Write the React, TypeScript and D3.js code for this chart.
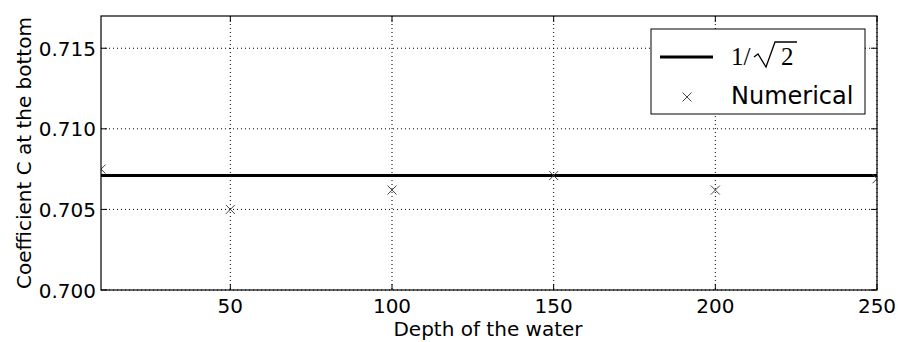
import React from 'react';
import { scaleLinear, line } from 'd3';

// data
const depths = [10, 50, 100, 150, 200, 250];
const numerical = [0.7075, 0.705, 0.7062, 0.7071, 0.7062, 0.7069];
const xTicks = [50, 100, 150, 200, 250];
const yTicks = [0.7, 0.705, 0.71, 0.715];
const theory = 1 / Math.SQRT2;

const W = 898;
const H = 342;
const left = 101;
const right = 877;
const top = 16;
const bottom = 290;
const font = '"DejaVu Sans", sans-serif';
const serif = '"Liberation Serif", "DejaVu Serif", serif';

const App = () => {
  const x = scaleLinear().domain([10, 250]).range([left, right]);
  const y = scaleLinear().domain([0.7, 0.717]).range([bottom, top]);

  const theoryLine = line<number>()
    .x((d) => x(d))
    .y(() => y(theory));

  const cross = (cx: number, cy: number, r: number) =>
    `M${cx - r},${cy - r}L${cx + r},${cy + r}M${cx - r},${cy + r}L${cx + r},${cy - r}`;

  return (
    <svg width={W} height={H} style={{ position: 'absolute', left: 0, top: 0, background: '#fff' }}>
      <defs>
        <clipPath id="plot">
          <rect x={left} y={top} width={right - left} height={bottom - top} />
        </clipPath>
      </defs>

      {/* grid */}
      <g stroke="#000" strokeWidth={1} strokeDasharray="1,3">
        {xTicks.map((t) => (
          <line key={'gx' + t} x1={x(t)} x2={x(t)} y1={top} y2={bottom} />
        ))}
        {yTicks.map((t) => (
          <line key={'gy' + t} x1={left} x2={right} y1={y(t)} y2={y(t)} />
        ))}
      </g>

      {/* ticks, inward on all four sides */}
      <g stroke="#000" strokeWidth={1}>
        {xTicks.map((t) => (
          <g key={'tx' + t}>
            <line x1={x(t)} x2={x(t)} y1={bottom} y2={bottom - 6} />
            <line x1={x(t)} x2={x(t)} y1={top} y2={top + 6} />
          </g>
        ))}
        {yTicks.map((t) => (
          <g key={'ty' + t}>
            <line x1={left} x2={left + 6} y1={y(t)} y2={y(t)} />
            <line x1={right} x2={right - 6} y1={y(t)} y2={y(t)} />
          </g>
        ))}
      </g>

      <g clipPath="url(#plot)">
        <path d={theoryLine([10, 250]) || ''} stroke="#000" strokeWidth={3} fill="none" />
        {depths.map((d, i) => (
          <path key={d} d={cross(x(d), y(numerical[i]), 4.5)} stroke="#444" strokeWidth={1} fill="none" />
        ))}
      </g>

      <rect x={left} y={top} width={right - left} height={bottom - top} fill="none" stroke="#000" strokeWidth={1.2} />

      {/* tick labels */}
      <g fontFamily={font} fontSize={20} fill="#000">
        {xTicks.map((t) => (
          <text key={'lx' + t} x={x(t)} y={313} textAnchor="middle">
            {t}
          </text>
        ))}
        {yTicks.map((t) => (
          <text key={'ly' + t} x={left - 5} y={y(t) + 7.5} textAnchor="end">
            {t.toFixed(3)}
          </text>
        ))}
        <text x={(left + right) / 2 - 1} y={336} textAnchor="middle">
          Depth of the water
        </text>
        <text transform={`translate(31,${(top + bottom) / 2}) rotate(-90)`} textAnchor="middle">
          Coefficient C at the bottom
        </text>
      </g>

      {/* legend */}
      <g>
        <rect x={651} y={29} width={214} height={85} fill="#fff" stroke="#000" strokeWidth={1} />
        <line x1={660} x2={713} y1={57} y2={57} stroke="#000" strokeWidth={3} />
        <text x={731} y={65} fontFamily={serif} fontSize={25}>
          1/
        </text>
        <path d="M754,57L758,54L766,67L775,42L797,42" stroke="#000" strokeWidth={1.3} fill="none" />
        <text x={781} y={65} fontFamily={serif} fontSize={25}>
          2
        </text>
        <path d={cross(687, 97, 4.5)} stroke="#444" strokeWidth={1} fill="none" />
        <text x={731} y={104} fontFamily={font} fontSize={24}>
          Numerical
        </text>
      </g>
    </svg>
  );
};

export default App;
